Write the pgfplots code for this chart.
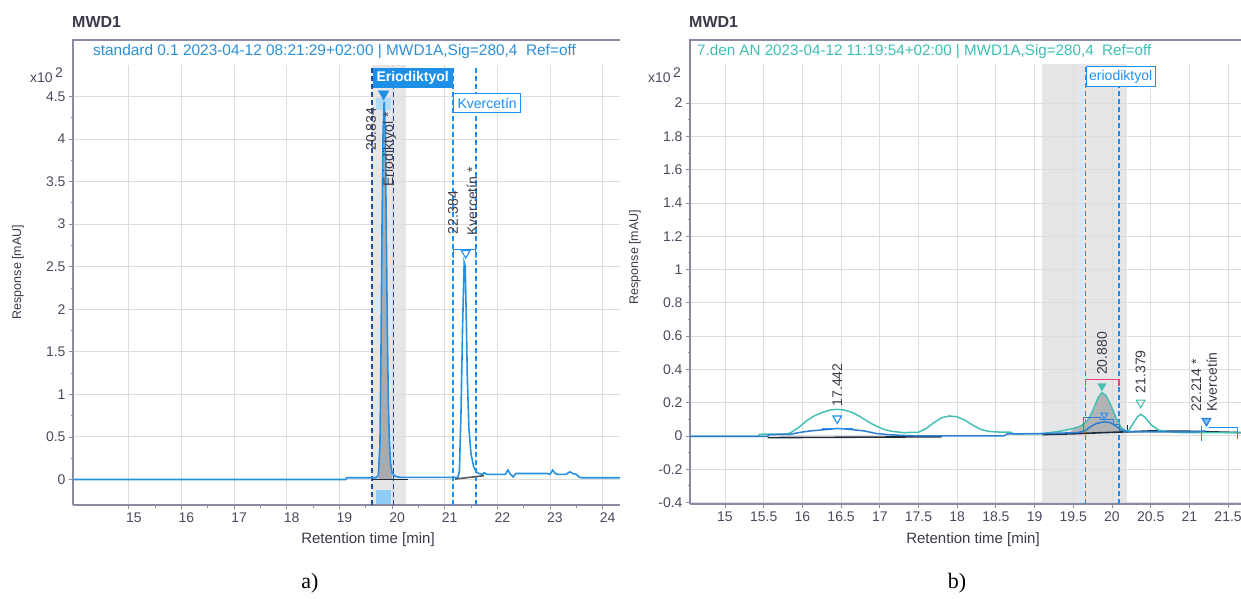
\documentclass[border=0pt]{standalone}
\usepackage{fontspec}
\setmainfont{Liberation Sans}
\newfontfamily\capfont{Liberation Serif}
\usepackage{pgfplots}
\pgfplotsset{compat=1.18}
\definecolor{axiscol}{HTML}{8A8AA0}
\definecolor{gridcol}{HTML}{DDDDDD}
\definecolor{ticklab}{HTML}{4A4A5E}
\definecolor{txtdark}{HTML}{3A3A48}
\definecolor{sigblue}{HTML}{2490DF}
\definecolor{sigblue2}{HTML}{2C7FD0}
\definecolor{tealline}{HTML}{45C0B5}
\definecolor{basedark}{HTML}{1E2B3A}
\definecolor{navydash}{HTML}{2A4B9D}
\definecolor{dashblue}{HTML}{1E90F5}
\definecolor{lblue}{HTML}{1E8FE6}
\definecolor{bandgray}{HTML}{E6E6E9}
\definecolor{peakgray}{HTML}{A9ABAE}
\definecolor{lightblue}{HTML}{8ECBF5}
\definecolor{hdrblue}{HTML}{2B8FD8}
\definecolor{hdrteal}{HTML}{3DBFB3}
\definecolor{pinkbr}{HTML}{F0407A}
\newcommand{\fsz}[1]{\fontsize{#1}{#1}\selectfont}
\pgfplotsset{chromstyle/.style={
  scale only axis, set layers,
  axis lines=left, axis line style={-, draw=axiscol, line width=1.5pt},
  tick align=outside, major tick length=4pt, minor tick length=2.5pt,
  every tick/.style={axiscol, line width=0.8pt},
  grid=major, major grid style={draw=gridcol, line width=0.9pt},
  tick label style={font=\fsz{14}, text=ticklab},
  /pgf/number format/assume math mode=true,
  clip=true}}
\begin{document}
\begin{tikzpicture}[x=1pt,y=1pt]
%%%%%%%%%%%%%%%%%%%% LEFT PANEL
\begin{axis}[chromstyle, at={(73pt,93pt)}, anchor=south west, width=547pt, height=440pt,
  xmin=13.94, xmax=24.33, ymin=-0.30, ymax=4.87,
  xtick={15,16,17,18,19,20,21,22,23,24},
  ytick={0,0.5,1,1.5,2,2.5,3,3.5,4,4.5},
  minor x tick num=1, minor y tick num=1,
  xticklabel style={xshift=5pt}]
\addplot[on layer=axis background, draw=none, fill=bandgray] coordinates {(19.62,-0.30) (20.27,-0.30) (20.27,4.87) (19.62,4.87)};
\addplot[draw=none, fill=lightblue] coordinates {(19.69,-0.12) (19.98,-0.12) (19.98,-0.29) (19.69,-0.29)};
\addplot[draw=none, fill=lightblue!70] coordinates {(19.70,4.34) (19.98,4.34) (19.98,4.48) (19.70,4.48)};
\addplot[draw=none, fill=peakgray] coordinates {(19.74,0.0) (19.74,0.05) (19.77,0.4) (19.79,1.5) (19.81,3.0) (19.83,4.1) (19.85,4.44) (19.87,4.1) (19.89,3.0) (19.91,1.8) (19.93,0.9) (19.95,0.45) (19.97,0.2) (20.0,0.08) (20.0,0.0)};
\addplot[navydash, line width=1.5pt, dash pattern=on 5pt off 3pt] coordinates {(19.62,-0.30) (19.62,4.87)};
\addplot[navydash, line width=1.5pt, dash pattern=on 5pt off 3pt] coordinates {(20.03,-0.30) (20.03,4.87)};
\addplot[dashblue, line width=1.5pt, dash pattern=on 5pt off 3pt] coordinates {(21.16,-0.30) (21.16,4.87)};
\addplot[dashblue, line width=1.5pt, dash pattern=on 5pt off 3pt] coordinates {(21.59,-0.30) (21.59,4.87)};
\addplot[basedark, line width=1.4pt] coordinates {(19.62,0.0) (20.30,0.0)};
\addplot[gray!70!black, line width=1.6pt] coordinates {(21.20,0.005) (21.75,0.045)};
\addplot[sigblue, line width=1.6pt] coordinates {
(13.94,0) (19.12,0) (19.14,0.02) (19.70,0.02) (19.74,0.05) (19.77,0.4) (19.79,1.5) (19.81,3.0) (19.83,4.1) (19.85,4.44) (19.87,4.1) (19.89,3.0) (19.91,1.8) (19.93,0.9) (19.95,0.45) (19.97,0.2) (20.0,0.08) (20.05,0.04) (20.15,0.025) (21.25,0.025) (21.28,0.1) (21.31,0.8) (21.34,1.8) (21.37,2.55) (21.39,2.5) (21.41,1.9) (21.43,1.2) (21.46,0.6) (21.5,0.3) (21.55,0.15) (21.6,0.09) (21.65,0.07) (21.72,0.06) (21.75,0.08) (21.8,0.06) (22.15,0.06) (22.2,0.11) (22.25,0.06) (22.3,0.03) (22.35,0.07) (22.95,0.07) (23.0,0.06) (23.05,0.11) (23.1,0.07) (23.15,0.06) (23.3,0.06) (23.38,0.09) (23.43,0.07) (23.5,0.06) (23.55,0.03) (23.6,0.02) (24.33,0.02)};
\addplot[dashblue, line width=1.2pt] coordinates {(21.16,2.60) (21.16,2.70) (21.59,2.70) (21.59,2.60)};
\addplot[only marks, mark=triangle, mark size=5pt, mark options={rotate=180, draw=dashblue, fill=white, line width=1.1pt}] coordinates {(21.40,2.66)};
\addplot[only marks, mark=triangle*, mark size=6pt, mark options={rotate=180, draw=lblue, fill=lblue}] coordinates {(19.84,4.53)};
\node[anchor=north west, fill=lblue, text=white, font=\bfseries\fsz{14}, inner xsep=4pt, inner ysep=0pt, minimum height=20pt] at (axis cs:19.625,4.84) {Eriodiktyol};
\node[anchor=north west, fill=white, draw=dashblue, line width=1pt, text=dashblue, font=\fsz{14}, inner xsep=4pt, inner ysep=0pt, minimum height=19pt] at (axis cs:21.16,4.54) {Kvercetín};
\node[rotate=90, anchor=west, text=txtdark, font=\fsz{14}, inner sep=1pt] at (axis cs:19.60,3.85) {20.834};
\node[rotate=90, anchor=west, text=txtdark, font=\fsz{14}, inner sep=1pt] at (axis cs:19.95,3.43) {Eriodiktyol *};
\node[rotate=90, anchor=west, text=txtdark, font=\fsz{14}, inner sep=1pt] at (axis cs:21.16,2.87) {22.384};
\node[rotate=90, anchor=west, text=txtdark, font=\fsz{14}, inner sep=1pt] at (axis cs:21.52,2.85) {Kvercetín *};
\end{axis}
%%%%%%%%%%%%%%%%%%%% RIGHT PANEL
\begin{axis}[chromstyle, at={(690pt,94pt)}, anchor=south west, width=551pt, height=440pt,
  xmin=14.548, xmax=21.667, ymin=-0.409, ymax=2.235,
  xtick={15,15.5,16,16.5,17,17.5,18,18.5,19,19.5,20,20.5,21,21.5},
  ytick={-0.4,-0.2,0,0.2,0.4,0.6,0.8,1,1.2,1.4,1.6,1.8,2},
  minor y tick num=1]
\addplot[on layer=axis background, draw=none, fill=bandgray] coordinates {(19.10,-0.409) (20.20,-0.409) (20.20,2.235) (19.10,2.235)};
\addplot[dashblue, line width=1.5pt, dash pattern=on 5pt off 3pt] coordinates {(19.66,-0.409) (19.66,2.235)};
\addplot[dashblue, line width=1.5pt, dash pattern=on 5pt off 3pt] coordinates {(20.09,-0.409) (20.09,2.235)};
\addplot[draw=none, fill=peakgray, opacity=0.85] coordinates {(19.45,0.012) (19.5,0.045) (19.6,0.06) (19.68,0.09) (19.75,0.15) (19.82,0.23) (19.87,0.26) (19.92,0.245) (19.98,0.19) (20.05,0.11) (20.12,0.05) (20.18,0.03) (20.2,0.03) (20.2,0.025) (19.9,0.02) (19.5,0.013)};
\addplot[basedark, line width=1.6pt] coordinates {(15.55,-0.01) (16.5,-0.008) (17.8,-0.005)};
\addplot[basedark, line width=1.6pt] coordinates {(19.1,0.008) (19.5,0.013) (19.9,0.02) (20.2,0.025) (20.5,0.03) (21.0,0.028) (21.667,0.02)};
\addplot[basedark, line width=1.2pt] coordinates {(20.2,0.02) (20.2,0.065)};
\addplot[tealline, line width=1.5pt] coordinates {
(14.548,-0.003) (15.42,-0.003) (15.45,0.01) (15.8,0.012) (15.85,0.02) (15.95,0.05) (16.05,0.09) (16.15,0.12) (16.25,0.14) (16.35,0.155) (16.45,0.16) (16.55,0.155) (16.65,0.14) (16.75,0.115) (16.85,0.085) (16.95,0.06) (17.05,0.04) (17.15,0.028) (17.3,0.02) (17.5,0.022) (17.6,0.045) (17.7,0.08) (17.8,0.11) (17.9,0.12) (18.0,0.115) (18.1,0.095) (18.2,0.065) (18.3,0.04) (18.4,0.028) (18.5,0.024) (18.7,0.022) (18.72,0.013) (19.05,0.013) (19.2,0.02) (19.35,0.03) (19.5,0.045) (19.6,0.06) (19.68,0.09) (19.75,0.15) (19.82,0.23) (19.87,0.26) (19.92,0.245) (19.98,0.19) (20.05,0.11) (20.12,0.05) (20.18,0.03) (20.22,0.035) (20.28,0.08) (20.33,0.115) (20.37,0.13) (20.42,0.115) (20.5,0.07) (20.6,0.035) (20.75,0.025) (20.9,0.02) (21.667,0.02)};
\addplot[sigblue2, line width=1.5pt] coordinates {
(14.548,-0.003) (15.55,-0.003) (15.57,0.008) (15.85,0.01) (15.95,0.02) (16.1,0.03) (16.3,0.038) (16.45,0.045) (16.6,0.04) (16.8,0.03) (16.95,0.015) (17.1,0.008) (17.3,0.003) (17.5,0.0) (18.6,0.0) (18.65,0.012) (19.2,0.015) (19.55,0.02) (19.65,0.03) (19.72,0.055) (19.8,0.075) (19.9,0.085) (19.98,0.08) (20.05,0.06) (20.12,0.035) (20.2,0.025) (21.1,0.025) (21.2,0.03)};
\addplot[sigblue2, line width=1.3pt] coordinates {(19.63,0.02) (19.63,0.11) (19.85,0.11) (19.85,0.10) (20.02,0.10) (20.02,0.07) (20.10,0.07) (20.10,0.03)};
\addplot[dashblue, line width=1.3pt] coordinates {(16.25,0.045) (16.65,0.045)};
\addplot[dashblue, line width=1.3pt] coordinates {(21.16,-0.03) (21.16,0.06)};
\addplot[dashblue, line width=1.6pt] coordinates {(21.25,0.05) (21.62,0.05) (21.62,-0.02)};
\addplot[pinkbr, line width=1.6pt] coordinates {(19.66,0.30) (19.66,0.34) (20.09,0.34) (20.09,0.30)};
\addplot[only marks, mark=triangle*, mark size=5pt, mark options={rotate=180, draw=tealline, fill=tealline}] coordinates {(19.87,0.30)};
\addplot[only marks, mark=triangle, mark size=5pt, mark options={rotate=180, draw=tealline, fill=white, line width=1.1pt}] coordinates {(20.37,0.20)};
\addplot[only marks, mark=triangle, mark size=5pt, mark options={rotate=180, draw=dashblue, fill=white, line width=1.1pt}] coordinates {(16.45,0.105)};
\addplot[only marks, mark=triangle, mark size=4pt, mark options={rotate=180, draw=dashblue, fill=white, line width=1pt}] coordinates {(19.90,0.125)};
\addplot[only marks, mark=triangle*, mark size=5pt, mark options={rotate=180, draw=sigblue2, fill=dashblue!60, line width=1.1pt}] coordinates {(21.22,0.09)};
\node[anchor=north west, fill=white, draw=dashblue, line width=1pt, text=dashblue, font=\fsz{14}, inner xsep=3pt, inner ysep=0pt, minimum height=20pt] at (axis cs:19.66,2.22) {eriodiktyol};
\node[rotate=90, anchor=west, text=txtdark, font=\fsz{14}, inner sep=1pt] at (axis cs:16.45,0.17) {17.442};
\node[rotate=90, anchor=west, text=txtdark, font=\fsz{14}, inner sep=1pt] at (axis cs:19.87,0.36) {20.880};
\node[rotate=90, anchor=west, text=txtdark, font=\fsz{14}, inner sep=1pt] at (axis cs:20.37,0.25) {21.379};
\node[rotate=90, anchor=west, text=txtdark, font=\fsz{14}, inner sep=1pt] at (axis cs:21.09,0.14) {22.214 *};
\node[rotate=90, anchor=west, text=txtdark, font=\fsz{14}, inner sep=1pt] at (axis cs:21.29,0.14) {Kvercetín};
\end{axis}
%%%%%%%%%%%%%%%%%%%% HEADERS AND LABELS
\draw[axiscol, line width=1.5pt] (73,533) -- (73,558) -- (620,558);
\draw[axiscol, line width=1.5pt] (690,533) -- (690,558) -- (1241,558);
\node[anchor=west, text=hdrblue, font=\fsz{15.4}, inner sep=0pt] at (93,546) {standard 0.1 2023-04-12 08:21:29+02:00 | MWD1A,Sig=280,4 \ Ref=off};
\node[anchor=west, text=hdrteal, font=\fsz{15.2}, inner sep=0pt] at (697,546) {7.den AN 2023-04-12 11:19:54+02:00 | MWD1A,Sig=280,4 \ Ref=off};
\node[anchor=west, text=txtdark, font=\bfseries\fsz{16}, inner sep=0pt] at (72,576) {MWD1};
\node[anchor=west, text=txtdark, font=\bfseries\fsz{16}, inner sep=0pt] at (689,576) {MWD1};
\node[anchor=east, text=ticklab, font=\fsz{14}, inner sep=0pt] at (63,523) {x10\,\raisebox{5pt}{2}};
\node[anchor=east, text=ticklab, font=\fsz{14}, inner sep=0pt] at (681,523) {x10\,\raisebox{5pt}{2}};
\node[rotate=90, text=txtdark, font=\fsz{12.5}] at (18,326) {Response [mAU]};
\node[rotate=90, text=txtdark, font=\fsz{12.5}] at (635,341) {Response [mAU]};
\node[text=txtdark, font=\fsz{15}] at (368,58) {Retention time [min]};
\node[text=txtdark, font=\fsz{15}] at (973,58) {Retention time [min]};
\node[font=\capfont\fsz{22}] at (310,15) {a)};
\node[font=\capfont\fsz{22}] at (957,15) {b)};
\pgfresetboundingbox
\path[use as bounding box] (0,0) rectangle (1241,598);
\end{tikzpicture}
\end{document}
